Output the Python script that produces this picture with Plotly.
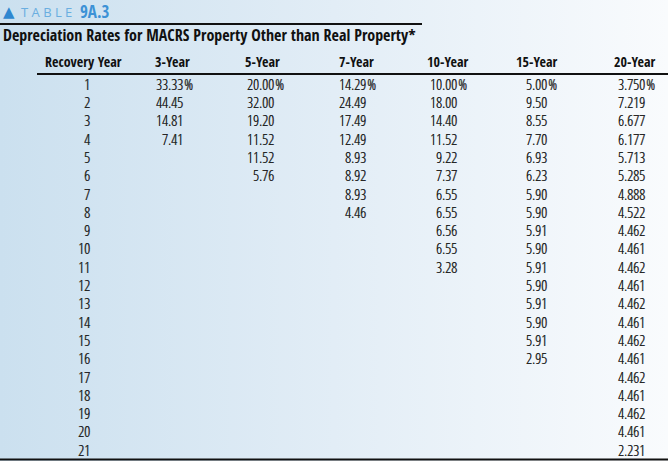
import base64
import plotly.graph_objects as go

# MACRS depreciation rates by recovery period (percent)
years = list(range(1, 22))
col_names = ["3-Year", "5-Year", "7-Year", "10-Year", "15-Year", "20-Year"]
rates_3 = [33.33, 44.45, 14.81, 7.41]
rates_5 = [20.00, 32.00, 19.20, 11.52, 11.52, 5.76]
rates_7 = [14.29, 24.49, 17.49, 12.49, 8.93, 8.92, 8.93, 4.46]
rates_10 = [10.00, 18.00, 14.40, 11.52, 9.22, 7.37, 6.55, 6.55, 6.56, 6.55, 3.28]
rates_15 = [5.00, 9.50, 8.55, 7.70, 6.93, 6.23, 5.90, 5.90, 5.91, 5.90, 5.91,
            5.90, 5.91, 5.90, 5.91, 2.95]
rates_20 = [3.750, 7.219, 6.677, 6.177, 5.713, 5.285, 4.888, 4.522, 4.462, 4.461,
            4.462, 4.461, 4.462, 4.461, 4.462, 4.461, 4.462, 4.461, 4.462, 4.461, 2.231]
decimals = [2, 2, 2, 2, 2, 3]

BOLD = "Open Sans Condensed, Liberation Sans Narrow, sans-serif"
LIGHT = "Open Sans Condensed Light, Liberation Sans Narrow, sans-serif"
INK = "#1e1e1e"
W, H = 668, 461
num_font = dict(family=LIGHT, size=15, color=INK, shadow="0.45px 0 0 #1e1e1e")

# right edge of the numbers (decimal alignment) for each column, in px
year_edge = 90
col_edges = [183, 274, 366, 457, 547, 645]
head_left = [157, 247, 341, 429, 518, 616]

# y axis in "recovery year" units: year 1 sits at 86px, year 21 at 452px
step = 18.3
y_top = 1 - 86 / step
y_bot = 1 + (H - 86) / step
head_row = 1 + (63 - 86) / step

fig = go.Figure()

# recovery year column
fig.add_trace(go.Scatter(
    x=[year_edge] * len(years), y=years, mode="text",
    text=[str(v) for v in years], textposition="middle left",
    textfont=num_font, hoverinfo="skip"))

all_rates = [rates_3, rates_5, rates_7, rates_10, rates_15, rates_20]
for rates, edge, dec in zip(all_rates, col_edges, decimals):
    yrs = years[:len(rates)]
    fig.add_trace(go.Scatter(
        x=[edge] * len(rates), y=yrs, mode="text",
        text=[f"{v:.{dec}f}" for v in rates], textposition="middle left",
        textfont=num_font, hoverinfo="skip"))
    # percent sign on first row hangs past the alignment edge
    fig.add_trace(go.Scatter(
        x=[edge + 1], y=[yrs[0]], mode="text", text=["%"], textposition="middle right",
        textfont=num_font, hoverinfo="skip"))

# header row
heads = ["Recovery Year"] + col_names
fig.add_trace(go.Scatter(
    x=[45] + [h - 2 for h in head_left], y=[head_row] * len(heads), mode="text",
    text=heads, textposition="middle right",
    textfont=dict(family=BOLD, size=14, color="#111"), hoverinfo="skip"))

svg = (
    f'<svg xmlns="http://www.w3.org/2000/svg" width="{W}" height="{H}">'
    '<defs><linearGradient id="g" x1="0" y1="0" x2="1" y2="0">'
    '<stop offset="0" stop-color="#cbe0ef"/>'
    '<stop offset="0.5" stop-color="#e2edf6"/>'
    '<stop offset="1" stop-color="#f9fbfd"/>'
    '</linearGradient></defs>'
    f'<rect width="{W}" height="{H}" fill="url(#g)"/></svg>'
)
bg = "data:image/svg+xml;base64," + base64.b64encode(svg.encode()).decode()

fig.update_layout(
    width=W, height=H,
    margin=dict(l=0, r=0, t=0, b=0),
    paper_bgcolor="white", plot_bgcolor="rgba(0,0,0,0)",
    showlegend=False,
    xaxis=dict(range=[0, W], visible=False, fixedrange=True),
    yaxis=dict(range=[y_bot, y_top], visible=False, fixedrange=True),
    images=[dict(source=bg, xref="paper", yref="paper", x=0, y=1,
                 sizex=1, sizey=1, sizing="stretch", layer="below")],
    shapes=[
        dict(type="line", xref="x", yref="paper", x0=0, x1=422,
             y0=1 - 24 / H, y1=1 - 24 / H, line=dict(color="#111", width=2)),
        dict(type="line", xref="x", yref="paper", x0=37, x1=W,
             y0=1 - 74 / H, y1=1 - 74 / H, line=dict(color="#111", width=2)),
        dict(type="line", xref="x", yref="paper", x0=0, x1=W,
             y0=1 - 459.5 / H, y1=1 - 459.5 / H, line=dict(color="#111", width=2)),
    ],
    annotations=[
        dict(x=1, y=1 - 12 / H, xref="x", yref="paper", xanchor="left", yanchor="middle",
             showarrow=False, text="<span style='color:#2f87d0'>▲</span>",
             font=dict(family="DejaVu Sans", size=15)),
        dict(x=19, y=1 - 12 / H, xref="x", yref="paper", xanchor="left", yanchor="middle",
             showarrow=False, text="T A B L E",
             font=dict(family="Open Sans", size=13, color="#6aaee0")),
        dict(x=78, y=1 - 12 / H, xref="x", yref="paper", xanchor="left", yanchor="middle",
             showarrow=False, text="9A.3",
             font=dict(family=BOLD, size=17, color="#3d92d6")),
        dict(x=1, y=1 - 35 / H, xref="x", yref="paper", xanchor="left", yanchor="middle",
             showarrow=False,
             text="Depreciation Rates for MACRS Property Other than Real Property*",
             font=dict(family=BOLD, size=16, color="#111")),
    ],
)

fig.write_html("out.html", config={"displayModeBar": False},
               post_script="document.body.style.margin='0';")
